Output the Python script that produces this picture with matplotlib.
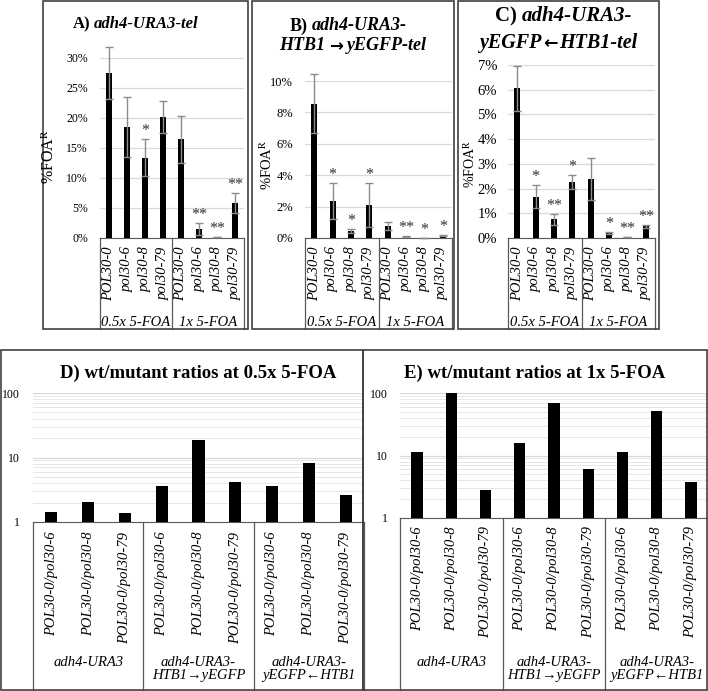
import numpy as np
import matplotlib
matplotlib.use('Agg')
import matplotlib.pyplot as plt
from matplotlib.transforms import blended_transform_factory
from matplotlib.patches import Rectangle
from matplotlib.ticker import LogLocator, NullFormatter

plt.rcParams['font.family'] = ['Liberation Serif', 'DejaVu Serif']
plt.rcParams['mathtext.fontset'] = 'stix'

# ---- data ----
strains = ['POL30-0', 'pol30-6', 'pol30-8', 'pol30-79']
foa_groups = ['0.5x 5-FOA', '1x 5-FOA']

# %FOA-R (0.5x 5-FOA strains, then 1x 5-FOA strains)
a_vals = [27.5, 18.55, 13.4, 20.2, 16.45, 1.5, 0.17, 5.87]
a_errs = [4.4, 5.0, 3.1, 2.7, 3.95, 0.95, 0.05, 1.7]
a_stars = ['', '', '*', '', '', '**', '**', '**']

b_vals = [8.55, 2.36, 0.45, 2.09, 0.77, 0.08, 0.02, 0.15]
b_errs = [1.88, 1.17, 0.15, 1.4, 0.27, 0.03, 0.01, 0.02]
b_stars = ['', '*', '*', '*', '', '**', '*', '*']

c_vals = [6.05, 1.67, 0.75, 2.28, 2.39, 0.19, 0.04, 0.47]
c_errs = [0.92, 0.47, 0.21, 0.28, 0.85, 0.04, 0.01, 0.05]
c_stars = ['', '*', '**', '*', '', '*', '**', '**']

ratio_labels = ['POL30-0/pol30-6', 'POL30-0/pol30-8', 'POL30-0/pol30-79']
constructs = ['adh4-URA3', 'adh4-URA3-\nHTB1\u2192yEGFP', 'adh4-URA3-\nyEGFP\u2190HTB1']
d_ratios = [1.45, 2.05, 1.38, 3.65, 18.8, 4.2, 3.65, 8.2, 2.65]
e_ratios = [11.5, 100, 2.85, 15.8, 68, 6.0, 11.4, 51, 3.75]

W, H = 708, 691
fig = plt.figure(figsize=(W / 100, H / 100), dpi=100)

BOX = '#404040'
AXC = '#595959'
GRID = '#d9d9d9'


def fy(y):
    return 1 - y / H


def fx(x):
    return x / W


def px_ax(l, t, r, b):
    return fig.add_axes([l / W, 1 - b / H, (r - l) / W, (b - t) / H])


def panel_box(l, t, r, b):
    fig.add_artist(Rectangle((fx(l), fy(b)), (r - l) / W, (b - t) / H,
                             transform=fig.transFigure, fill=False,
                             edgecolor=BOX, lw=1.2))


def title_text(x, y, s, fs, ha='left', italic=True, family=None):
    kw = dict(ha=ha, va='center', fontsize=fs, fontweight='bold')
    if italic:
        kw['fontstyle'] = 'italic'
    if family:
        kw['family'] = family
    fig.text(fx(x), fy(y), s, **kw)


def top_panel(rect, vals, errs, stars, ymax, step, tick_fs, pad):
    l, t, r, b = rect
    ax = px_ax(l, t, r, b)
    x = np.arange(len(vals))
    ax.bar(x, vals, width=0.33, color='black', zorder=3)
    eb = ax.errorbar(x, vals, yerr=errs, fmt='none', ecolor='#8c8c8c',
                     elinewidth=1, capsize=3, capthick=1, zorder=4)
    for art in list(eb.lines[1]) + list(eb.lines[2]):
        art.set_clip_on(False)
    for xi, v, e, s in zip(x, vals, errs, stars):
        if s:
            ax.text(xi, v + e, s, ha='center', va='bottom', fontsize=11.5,
                    color='#333333')
    ax.set_xlim(-0.5, 7.5)
    ax.set_ylim(0, ymax)
    ticks = np.arange(0, ymax + step / 2, step)
    ax.set_yticks(ticks)
    ax.set_yticklabels([f'{v:g}%' for v in ticks], fontsize=tick_fs)
    ax.yaxis.grid(True, color=GRID, lw=0.9)
    ax.set_axisbelow(True)
    for s in ['top', 'right', 'left']:
        ax.spines[s].set_visible(False)
    ax.spines['bottom'].set_color(AXC)
    ax.tick_params(axis='y', length=0, pad=pad * 0.72)
    ax.set_xticks(x)
    ax.set_xticklabels(strains * 2, rotation=90, fontstyle='italic',
                       fontsize=10.5, va='top')
    ax.tick_params(axis='x', length=0, pad=6)
    tr = blended_transform_factory(ax.transData, fig.transFigure)
    for xs in [-0.5, 3.5, 7.5]:
        ax.plot([xs, xs], [fy(b), fy(329)], transform=tr, color=AXC,
                lw=0.9, clip_on=False)
    for gx, g in zip([1.5, 5.5], foa_groups):
        ax.text(gx, fy(322), g, transform=tr, ha='center', va='center',
                fontstyle='italic', fontsize=10.5)
    return ax


def ratio_panel(rect, ratios, title, title_x, pad, lab_pad):
    l, t, r, b = rect
    ax = px_ax(l, t, r, b)
    x = np.arange(len(ratios))
    ax.bar(x, ratios, width=0.33, color='black', zorder=3)
    ax.set_yscale('log')
    ax.set_ylim(1, 100)
    ax.set_xlim(-0.5, 8.5)
    ax.set_yticks([1, 10, 100])
    ax.set_yticklabels(['1', '10', '100'], fontsize=8.5)
    ax.yaxis.set_minor_locator(LogLocator(base=10, subs=np.arange(2, 10)))
    ax.yaxis.set_minor_formatter(NullFormatter())
    ax.yaxis.grid(True, which='major', color=GRID, lw=0.9)
    ax.yaxis.grid(True, which='minor', color='#e6e6e6', lw=0.7)
    ax.set_axisbelow(True)
    for s in ['top', 'right', 'left']:
        ax.spines[s].set_visible(False)
    ax.spines['bottom'].set_color(AXC)
    ax.tick_params(axis='y', which='both', length=0, pad=pad * 0.72)
    ax.set_xticks(x)
    ax.set_xticklabels(ratio_labels * 3, rotation=90, fontstyle='italic',
                       fontsize=10.5, va='top')
    ax.tick_params(axis='x', length=0, pad=lab_pad)
    tr = blended_transform_factory(ax.transData, fig.transFigure)
    for xs in [-0.5, 2.5, 5.5, 8.5]:
        ax.plot([xs, xs], [fy(b), fy(690)], transform=tr, color=AXC,
                lw=0.9, clip_on=False)
    for gx, g in zip([1, 4, 7], constructs):
        ax.text(gx, fy(656), g, transform=tr, ha='center', va='top',
                fontstyle='italic', fontsize=10.5, linespacing=1.05)
    fig.text(fx(title_x), fy(373), title, ha='center', va='center',
             fontsize=13.5, fontweight='bold')
    return ax


# ---- panel borders ----
panel_box(43, 1, 248, 329)
panel_box(252, 1, 454, 329)
panel_box(458, 1, 659, 329)
panel_box(1, 350, 363, 690)
panel_box(363, 350, 707, 690)

# ---- A ----
top_panel((100, 58, 244, 238), a_vals, a_errs, a_stars, 30, 5, 8.5, 12)
title_text(73, 24, 'A)', 12, italic=False)
title_text(94, 24, 'adh4-URA3-tel', 12)
fig.text(fx(50), fy(157), r'%FOA$^{\mathrm{R}}$', rotation=90, ha='center',
         va='center', fontsize=11.5)

# ---- B ----
top_panel((305, 81, 452, 238), b_vals, b_errs, b_stars, 10, 2, 9, 12)
title_text(290, 26, 'B)', 13, italic=False)
title_text(312, 26, 'adh4-URA3-', 13)
title_text(325, 46, 'HTB1', 13, ha='right')
title_text(336, 46, '\u2192', 12, ha='center', italic=False,
           family=['DejaVu Sans'])
title_text(347, 46, 'yEGFP-tel', 13)
fig.text(fx(267), fy(165), r'%FOA$^{\mathrm{R}}$', rotation=90, ha='center',
         va='center', fontsize=10.5)

# ---- C ----
top_panel((508, 65, 655, 238), c_vals, c_errs, c_stars, 7, 1, 10.5, 11)
title_text(495, 16, 'C)', 15, italic=False)
title_text(522, 16, 'adh4-URA3-', 15)
title_text(541, 43, 'yEGFP', 14.5, ha='right')
title_text(550, 43, '\u2190', 12.5, ha='center', italic=False,
           family=['DejaVu Sans'])
title_text(559, 43, 'HTB1-tel', 14.5)
fig.text(fx(470), fy(164), r'%FOA$^{\mathrm{R}}$', rotation=90, ha='center',
         va='center', fontsize=10)

# ---- D / E ----
ratio_panel((33, 393, 364, 522), d_ratios,
            'D) wt/mutant ratios at 0.5x 5-FOA', 198, 13, 7)
ratio_panel((400, 393, 708, 518), e_ratios,
            'E) wt/mutant ratios at 1x 5-FOA', 535, 12, 6)

fig.savefig('out.png', dpi=100)
